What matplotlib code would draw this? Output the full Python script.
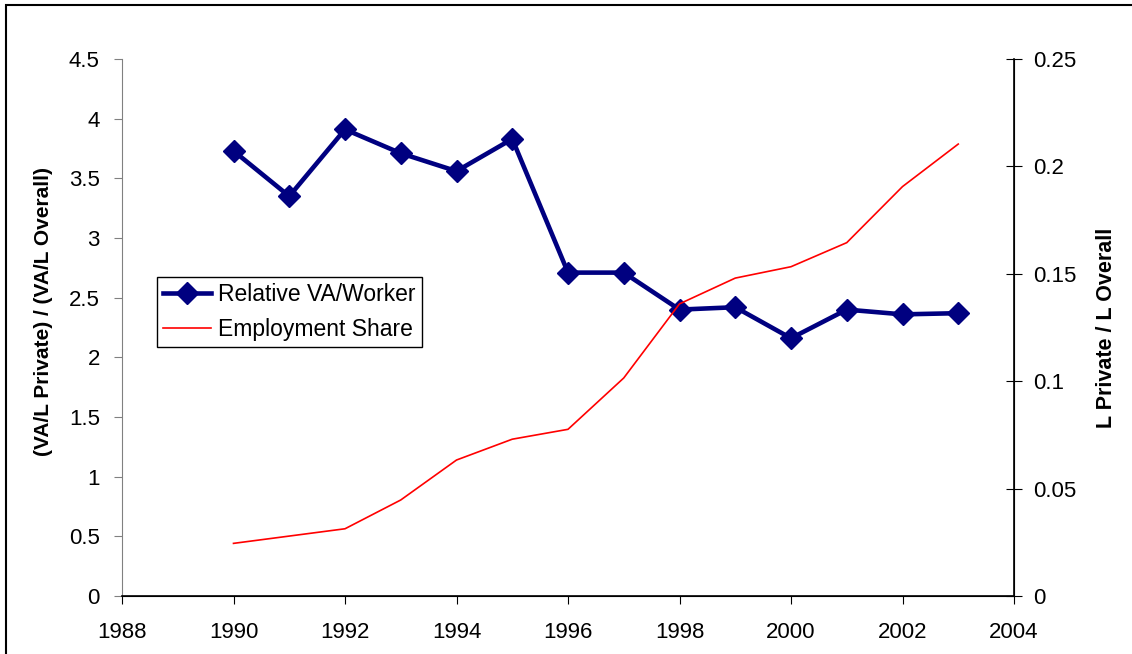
#!/usr/bin/env python3
"""Relative value added per worker vs. private employment share."""

import matplotlib
import numpy as np

matplotlib.use("Agg")
import matplotlib.pyplot as plt
from matplotlib.patches import Rectangle

years = np.arange(1990, 2004)
relative_va = [3.73, 3.35, 3.91, 3.71, 3.56, 3.83, 2.71, 2.71,
               2.40, 2.42, 2.16, 2.40, 2.36, 2.37]
employment_share = [0.0245, 0.0279, 0.0313, 0.0447, 0.0633, 0.0730, 0.0776,
                    0.1015, 0.136, 0.148, 0.1533, 0.1645, 0.1906, 0.2104]

plt.rcParams["font.family"] = ["Liberation Sans", "DejaVu Sans"]

fig = plt.figure(figsize=(11.32, 6.54), dpi=100)
fig.patches.append(Rectangle((6 / 1132, -0.1), 1.2, 1.1 - 5 / 654,
                             transform=fig.transFigure, fill=False,
                             edgecolor="black", linewidth=1.5))

ax = fig.add_axes([122 / 1132, 1 - 596 / 654, 892 / 1132, 537 / 654])
ax2 = ax.twinx()

(va_line,) = ax.plot(years, relative_va, color="#000080", linewidth=3.3,
                     marker="D", markersize=11.5, label="Relative VA/Worker",
                     zorder=3)
(emp_line,) = ax2.plot(years, employment_share, color="#ff0000",
                       linewidth=1.2, label="Employment Share")

ax.set_xlim(1988, 2004)
ax.set_ylim(0, 4.5)
ax.set_xticks(np.arange(1988, 2005, 2))
ax.set_yticks(np.arange(0, 4.51, 0.5), ["0", "0.5", "1", "1.5", "2", "2.5",
                                        "3", "3.5", "4", "4.5"])
ax2.set_ylim(0, 0.25)
ax2.set_yticks(np.arange(0, 0.251, 0.05), ["0", "0.05", "0.1", "0.15",
                                           "0.2", "0.25"])

ax.spines["top"].set_visible(False)
ax2.spines["top"].set_visible(False)
ax.spines["left"].set_color("#808080")
ax2.spines["left"].set_visible(False)
ax.spines["bottom"].set_linewidth(1.2)
ax2.spines["right"].set_linewidth(1.2)

ax.tick_params(axis="y", direction="out", length=6, labelsize=16, pad=10,
               color="#808080")
ax.tick_params(axis="x", direction="out", length=6, labelsize=16, pad=13)
ax2.tick_params(axis="y", direction="inout", length=11, labelsize=16, pad=8)

ax.set_ylabel("(VA/L Private) / (VA/L Overall)", fontsize=15,
              fontweight="bold")
ax.yaxis.set_label_coords(-69 / 892, 0.529)
ax2.set_ylabel("L Private / L Overall", fontsize=15.5, fontweight="bold",
               rotation=90, labelpad=14)

legend = ax.legend(handles=[va_line, emp_line], loc="upper left",
                   bbox_to_anchor=(0.039, 0.594), borderaxespad=0,
                   fontsize=16.5, fancybox=False, framealpha=1,
                   handlelength=2.1, borderpad=0.28, labelspacing=0.5,
                   handletextpad=0.28)
legend.get_frame().set_edgecolor("black")
legend.get_frame().set_linewidth(1)

fig.savefig("out.png", dpi=100)
